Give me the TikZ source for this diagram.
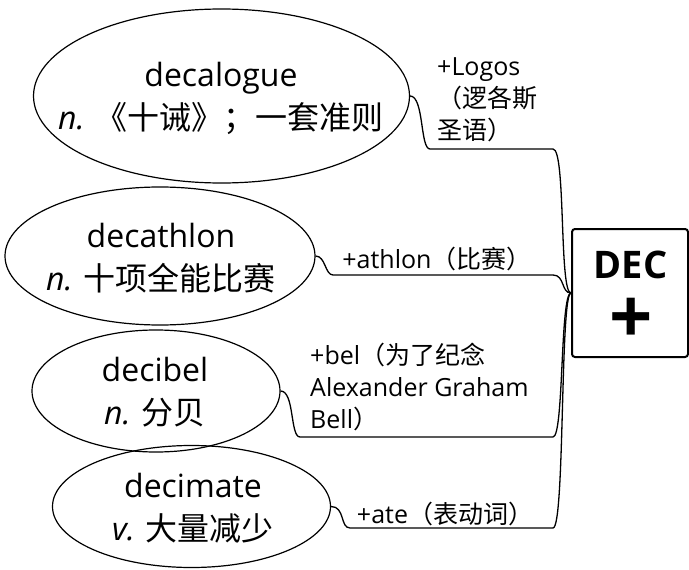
\documentclass[tikz,border=0pt]{standalone}
\usepackage{fontspec}
\setmainfont{Open Sans}
\newfontfamily\cjk{Noto Sans CJK SC}
\usetikzlibrary{shapes.geometric}
\tikzset{
 ell/.style={draw, ellipse, line width=1.2pt, inner sep=0pt},
 etext/.style={align=center, font=\fontsize{32}{43}\selectfont, inner sep=0pt},
 lab/.style={font=\fontsize{25}{32}\selectfont, inner sep=0pt},
 conn/.style={line width=1.3pt},
 rootbox/.style={draw, line width=2pt, rounded corners=3pt, minimum width=116pt, minimum height=128pt, inner sep=0pt}
}
\begin{document}
\begin{tikzpicture}[x=1pt,y=-1pt]
\useasboundingbox (0,0) rectangle (689,570);
% ellipses
\node[ell, minimum width=376pt, minimum height=174pt] (e1) at (221.5,96) {};
\node[ell, minimum width=310pt, minimum height=138pt] (e2) at (160,256) {};
\node[ell, minimum width=248pt, minimum height=122pt] (e3) at (156,391) {};
\node[ell, minimum width=278pt, minimum height=122pt] (e4) at (191.5,506.5) {};
\node[etext] (t1) at (221,98) {decalogue\\\textit{n.} {\cjk 《十诫》；一套准则}};
\node[etext] (t2) at (161,258) {decathlon\\\textit{n.} {\cjk 十项全能比赛}};
\node[etext] (t3) at (155,392) {decibel\\\textit{n.} {\cjk 分贝}};
\node[etext] (t4) at (193,508) {decimate\\\textit{v.} {\cjk 大量减少}};
% root
\node[rootbox] (root) at (630,293) {};
\node[font=\fontsize{38}{38}\selectfont\bfseries, inner sep=0pt] (dec) at (630.5,264.5) {DEC};
\node[font=\fontsize{76}{76}\selectfont\bfseries, inner sep=0pt] (plus) at (631,320.5) {+};
% bend coordinates
\coordinate (a1) at (430,149); \coordinate (b1) at (553,149);
\coordinate (a2) at (333,275); \coordinate (b2) at (553,275);
\coordinate (a3) at (300,437); \coordinate (b3) at (553,437);
\coordinate (a4) at (350,528); \coordinate (b4) at (553,528);
% connectors
\draw[conn] (e1.east) .. controls +(14,0) and +(-10,0) .. (a1) -- (b1) .. controls +(13,0) and +(-12,0) .. (root.west);
\draw[conn] (e2.east) .. controls +(10,0) and +(-8,0) .. (a2) -- (b2) .. controls +(12,0) and +(-10,0) .. (root.west);
\draw[conn] (e3.east) .. controls +(14,0) and +(-10,0) .. (a3) -- (b3) .. controls +(11,0) and +(-11,0) .. (root.west);
\draw[conn] (e4.east) .. controls +(14,0) and +(-10,0) .. (a4) -- (b4) .. controls +(12,0) and +(-11,0) .. (root.west);
% labels
\node[lab, anchor=north west, align=left] (l1) at (437,57) {+Logos\\{\cjk （逻各斯}\\{\cjk 圣语）}};
\node[lab] (l2) at (437,259) {+athlon{\cjk （比赛）}};
\node[lab, anchor=north west, align=left] (l3) at (310,343) {+bel{\cjk （为了纪念}\\Alexander Graham\\Bell{\cjk ）}};
\node[lab] (l4) at (445,514) {+ate{\cjk （表动词）}};
\end{tikzpicture}
\end{document}
